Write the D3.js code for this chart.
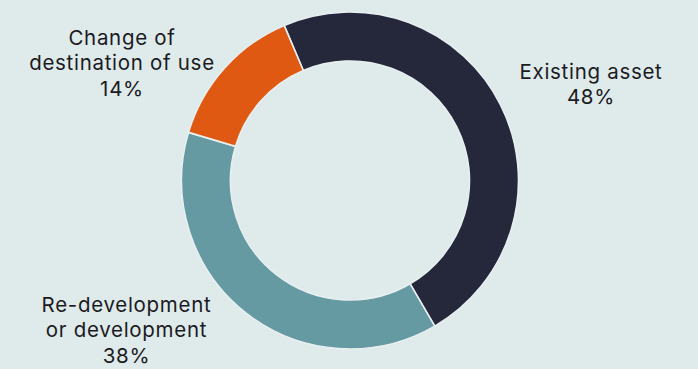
<!DOCTYPE html>
<html><head><meta charset="utf-8">
<script src="https://cdn.jsdelivr.net/npm/d3@7"></script>
<style>
html,body{margin:0;padding:0;background:#dfeaeb;}
svg{display:block;}
</style></head>
<body>
<svg id="chart" width="698" height="369"></svg>
<script>
const categories = ["Existing asset", "Re-development\nor development", "Change of\ndestination of use"];
const values = [48, 38, 14];
const colors = ["#25283b", "#669aa2", "#df5913"];

// label anchor positions (layout only): x center, first baseline y
const labelLayout = [
  {x: 591, y: 78.5},
  {x: 126.5, y: 311.5},
  {x: 122, y: 44.5}
];

const W = 698, H = 369;
const cx = 350, cy = 180.5, rOuter = 168.5, rInner = 119.5;
const svg = d3.select("#chart");
svg.append("rect").attr("width", W).attr("height", H).attr("fill", "#dfeaeb");

const data = categories.map((c, i) => ({cat: c, value: values[i], color: colors[i]}));
const startA = -23 * Math.PI / 180;
const pie = d3.pie().value(d => d.value).sort(null)
  .startAngle(startA).endAngle(startA + 2 * Math.PI);
const arc = d3.arc().innerRadius(rInner).outerRadius(rOuter);

const g = svg.append("g").attr("transform", `translate(${cx},${cy})`);
g.selectAll("path").data(pie(data)).join("path")
  .attr("d", arc)
  .attr("fill", d => d.data.color)
  .attr("stroke", "#e8eff0")
  .attr("stroke-width", 1.6);

const lbl = svg.append("g")
  .attr("font-family", "Inter, 'Noto Sans', sans-serif")
  .attr("font-size", 20.5)
  .attr("font-weight", 400)
  .attr("letter-spacing", 0.7)
  .attr("fill", "#1b1b1f")
  .attr("text-anchor", "middle");

data.forEach((d, i) => {
  const lines = d.cat.split("\n").concat([d.value + "%"]);
  const t = lbl.append("text").attr("x", labelLayout[i].x).attr("y", labelLayout[i].y);
  lines.forEach((ln, j) => {
    t.append("tspan").attr("x", labelLayout[i].x).attr("dy", j === 0 ? 0 : 25.5).text(ln);
  });
});
</script>
</body></html>
